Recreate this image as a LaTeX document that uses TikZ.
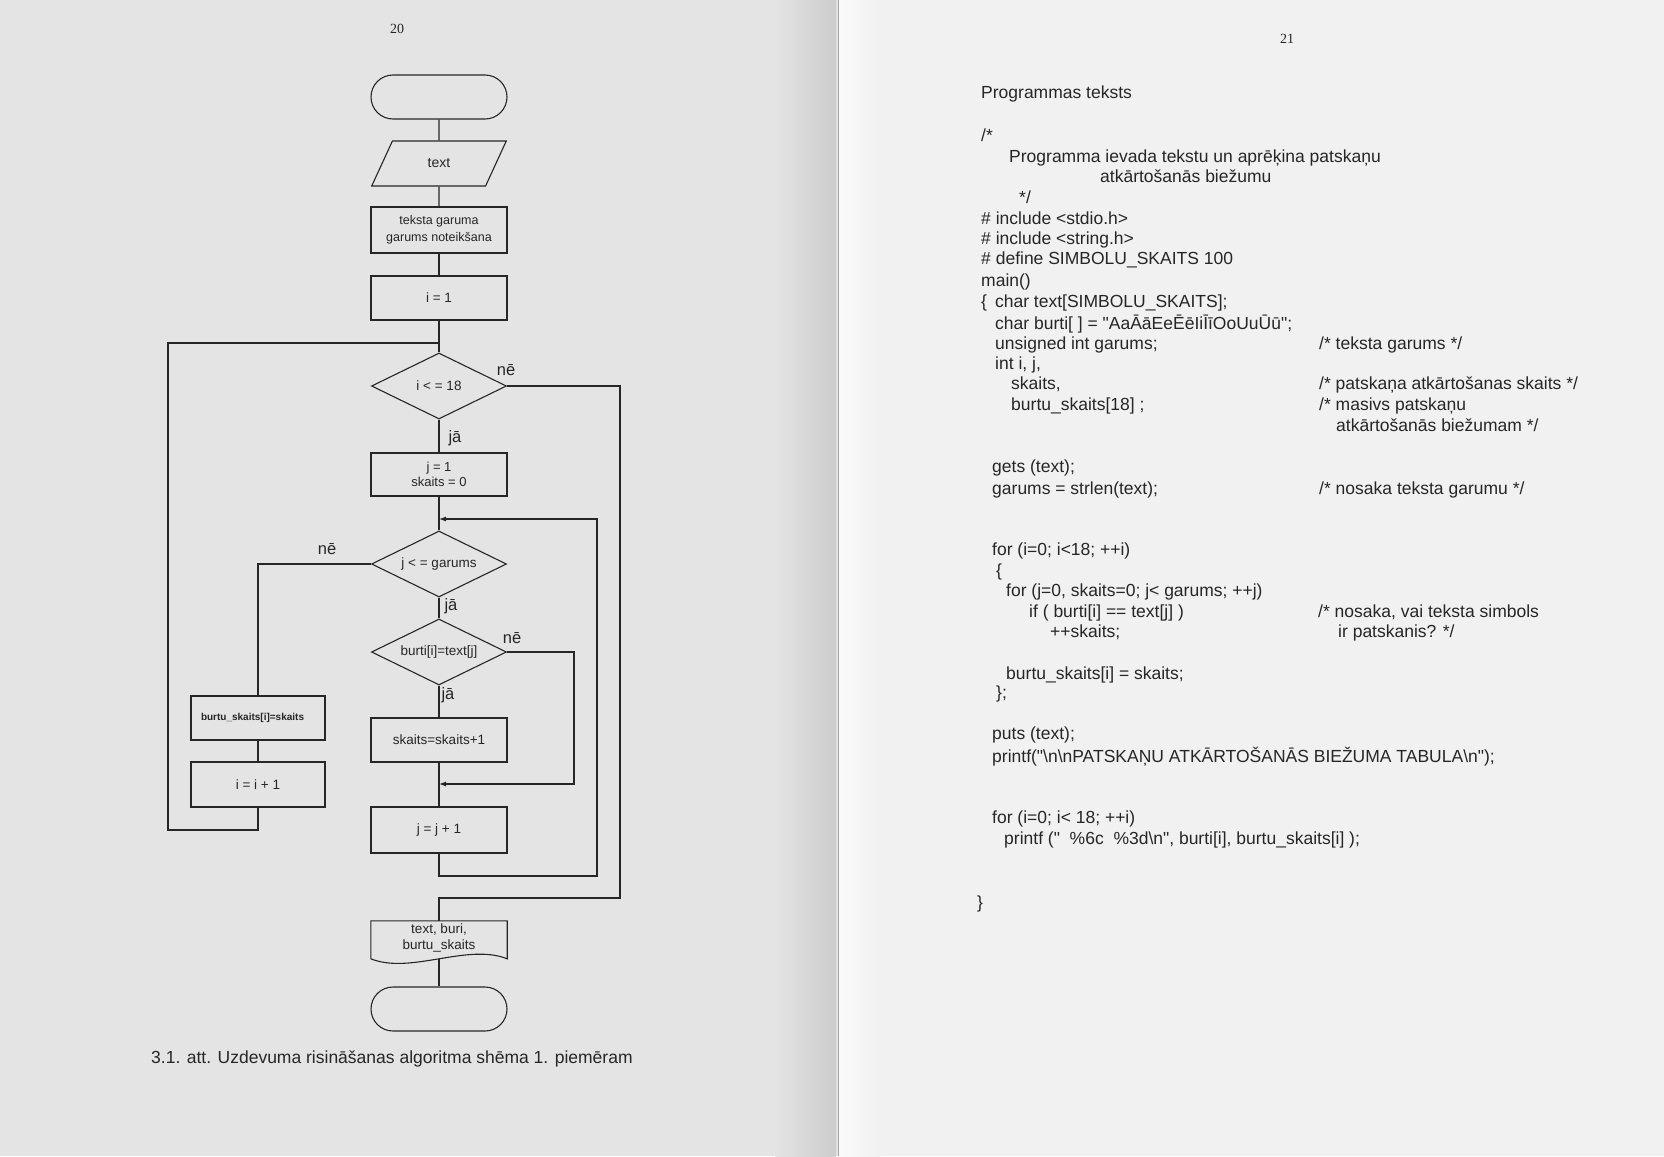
\documentclass[tikz,border=0pt]{standalone}
\usepackage{fontspec}
\setmainfont{Liberation Sans}[Ligatures=TeXOff]
\newfontfamily\pagefont{Liberation Serif}
\usetikzlibrary{shapes.geometric,arrows.meta}
\definecolor{ink}{gray}{0.15}
\definecolor{leftpage}{gray}{0.895}
\definecolor{rightpage}{gray}{0.945}
\newcommand\dq{\symbol{34}}
\begin{document}
\begin{tikzpicture}[x=1pt,y=-1pt,
  flow/.style={draw=ink, line width=1.1pt},
  box/.style={flow, rectangle, minimum width=136pt, minimum height=44pt, inner sep=1pt,
    align=center, font=\fontsize{13.5}{16}\selectfont, text=ink},
  term/.style={box, rounded corners=22pt},
  io/.style={box, trapezium, trapezium left angle=64, trapezium right angle=116,
    trapezium stretches=true, minimum width=135pt, minimum height=45pt},
  decision/.style={flow, diamond, aspect=2.05, minimum width=135pt, minimum height=66pt, inner sep=0pt,
    font=\fontsize{13.5}{16}\selectfont, text=ink},
  conn/.style={draw=ink, line width=1.1pt},
  arrow/.style={conn, -{Latex[length=7pt,width=5pt]}},
  lbl/.style={font=\fontsize{16.5}{18}\selectfont, text=ink, inner sep=0pt},
  code/.style={anchor=base west, inner sep=0pt, font=\fontsize{17.5}{20}\selectfont, text=ink},
]
% two facing pages with the gutter between them
\path[use as bounding box] (0,0) rectangle (1664,1156);
\fill[leftpage] (0,0) rectangle (838,1156);
\fill[rightpage] (838,0) rectangle (1664,1156);
\shade[left color=leftpage, right color=black!20] (775,0) rectangle (836,1156);
\draw[black!35, line width=1pt] (838,0) -- (838,1156);
\shade[left color=black!2, right color=rightpage] (839,0) rectangle (880,1156);

% page numbers
\node[font=\pagefont\fontsize{14}{16}\selectfont, text=ink] (p20) at (397,29) {20};
\node[font=\pagefont\fontsize{14}{16}\selectfont, text=ink] (p21) at (1287,39) {21};

% ---- flowchart ----
\node[term] (start) at (439,97) {};
\node[io, font=\fontsize{14}{16}\selectfont] (inp) at (439,163.5) {text};
\node[box, font=\fontsize{12.5}{17}\selectfont, minimum height=46pt] (len) at (439,230) {teksta garuma\\garums noteikšana};
\node[box] (i1) at (439,298) {i = 1};
\node[decision] (d1) at (439,386) {i < = 18};
\node[box, minimum height=43pt, font=\fontsize{13}{15.5}\selectfont] (j1) at (439,474.5) {j = 1\\skaits = 0};
\node[decision] (d2) at (439,564) {j < = garums};
\node[decision] (d3) at (439,652) {burti[i]=text[j]};
\node[box] (inc) at (439,740) {skaits=skaits+1};
\node[box, minimum height=46pt] (jinc) at (439,830) {j = j + 1};
\node[inner sep=0pt, minimum width=136pt, minimum height=34pt, align=center,
  font=\fontsize{13.5}{16}\selectfont, text=ink] (out) at (439,938) {text, buri,\\burtu\_skaits};
\draw[flow] (out.north west) -- (out.north east) -- ([yshift=-38pt]out.north east)
  .. controls +(-40,-16) and +(40,16) .. ([yshift=-38pt]out.north west) -- cycle;
\node[term] (end) at (439,1009) {};
\node[box, minimum width=134pt, text width=114pt, align=left,
  font=\bfseries\fontsize{10}{12}\selectfont] (bs) at (258,718) {burtu\_skaits[i]=skaits};
\node[box, minimum width=134pt, minimum height=45pt] (iinc) at (258,784.5) {i = i + 1};

% straight connectors
\draw[conn] (start) -- (inp.north);
\draw[conn] (inp.south) -- (len);
\draw[conn] (len) -- (i1);
\draw[conn] (i1) -- (d1);
\draw[conn] (d1) -- (j1);
\draw[conn] (j1) -- (d2);
\draw[conn] (d2) -- (d3);
\draw[conn] (d3) -- (inc);
\draw[conn] (inc) -- (jinc);
\draw[conn] (bs) -- (iinc);
\draw[conn] ([yshift=-38pt]out.north) -- (end);

% outer loop over i
\coordinate (m1) at (439,343);
\coordinate (ll) at (168,830);
\draw[conn] (iinc.south) |- (ll) |- (m1);

% exit of the outer loop
\coordinate (r1) at (620,898);
\draw[conn] (d1.east) -| (r1) -| (out.north);

% inner loop over j
\coordinate (m2) at (439,519);
\coordinate (r2) at (597,876);
\draw[arrow] (jinc.south) |- (r2) |- (m2);

% skip when the letter differs
\coordinate (m3) at (439,784);
\coordinate (r3) at (574,784);
\draw[arrow] (d3.east) -| (r3) -- (m3);

% end of the inner loop
\draw[conn] (d2.west) -| (bs.north);

% branch labels
\node[lbl] (n1) at (506,370) {nē};
\node[lbl] (y1) at (455,438) {jā};
\node[lbl] (n2) at (327,549) {nē};
\node[lbl] (y2) at (451,606) {jā};
\node[lbl] (n3) at (512,638) {nē};
\node[lbl] (y3) at (448,695) {jā};

% caption
\node[code, font=\fontsize{17.5}{20}\selectfont] (cap) at (151,1063) {3.1. att. Uzdevuma risināšanas algoritma shēma 1. piemēram};

% ---- program listing ----
\node[code] (t01) at (981,98) {Programmas teksts};
\node[code] (t02) at (981,141) {/*};
\node[code] (t03) at (1009,162) {Programma ievada tekstu un aprēķina patskaņu};
\node[code] (t04) at (1100,182) {atkārtošanās biežumu};
\node[code] (t05) at (1019,203) {*/};
\node[code] (t06) at (981,224) {\# include <stdio.h>};
\node[code] (t07) at (981,244) {\# include <string.h>};
\node[code] (t08) at (981,264) {\# define SIMBOLU\_SKAITS 100};
\node[code] (t09) at (981,286) {main()};
\node[code] (t10) at (981,307) {\{\hspace{8pt}char text[SIMBOLU\_SKAITS];};
\node[code] (t11) at (995,329) {char burti[ ] = \dq AaĀāEeĒēIiĪīOoUuŪū\dq;};
\node[code] (t12) at (995,349) {unsigned int garums;};
\node[code] (k12) at (1319,349) {/* teksta garums */};
\node[code] (t13) at (995,369) {int i, j,};
\node[code] (t14) at (1011,389) {skaits,};
\node[code] (k14) at (1319,389) {/* patskaņa atkārtošanas skaits */};
\node[code] (t15) at (1011,410) {burtu\_skaits[18] ;};
\node[code] (k15) at (1319,410) {/* masivs patskaņu};
\node[code] (k16) at (1336,431) {atkārtošanās biežumam */};
\node[code] (t17) at (992,472) {gets (text);};
\node[code] (t18) at (992,494) {garums = strlen(text);};
\node[code] (k18) at (1319,494) {/* nosaka teksta garumu */};
\node[code] (t19) at (992,555) {for (i=0; i<18; ++i)};
\node[code] (t20) at (996,576) {\{};
\node[code] (t21) at (1006,596) {for (j=0, skaits=0; j< garums; ++j)};
\node[code] (t22) at (1029,617) {if ( burti[i] == text[j] )};
\node[code] (k22) at (1318,617) {/* nosaka, vai teksta simbols};
\node[code] (t23) at (1050,637) {++skaits;};
\node[code] (k23) at (1338,637) {ir patskanis? */};
\node[code] (t24) at (1006,679) {burtu\_skaits[i] = skaits;};
\node[code] (t25) at (996,698) {\};};
\node[code] (t26) at (992,739) {puts (text);};
\node[code] (t27) at (992,762) {printf(\dq\textbackslash n\textbackslash nPATSKAŅU ATKĀRTOŠANĀS BIEŽUMA TABULA\textbackslash n\dq);};
\node[code] (t28) at (992,823) {for (i=0; i< 18; ++i)};
\node[code] (t29) at (1004,844) {printf (\dq\ \ \%6c\ \ \%3d\textbackslash n\dq, burti[i], burtu\_skaits[i] );};
\node[code] (t30) at (977,908) {\}};
\end{tikzpicture}
\end{document}
